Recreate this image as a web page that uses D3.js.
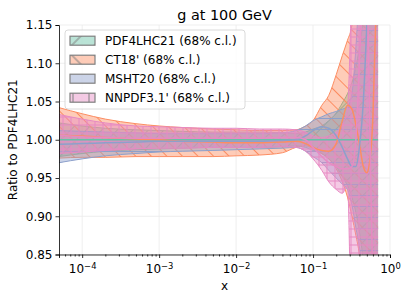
<!DOCTYPE html>
<html>
<head>
<meta charset="utf-8">
<script src="https://cdn.jsdelivr.net/npm/d3@7"></script>
<style>
  body { margin: 0; background: #fff; }
  text { font-family: "DejaVu Sans", sans-serif; }
</style>
</head>
<body>
<div id="chart"></div>
<script>
// x grid shared by all bands
var xs = [5e-5, 1e-4, 2e-4, 5e-4, 1e-3, 2e-3, 5e-3, 1e-2, 2e-2, 4e-2, 0.06, 0.08, 0.1, 0.13, 0.16, 0.2, 0.24, 0.28, 0.32, 0.36, 0.4, 0.45, 0.5, 0.55, 0.6, 0.65, 0.7]

var pdf4lhcMid = [1, 1, 1, 1, 1, 1, 1, 1, 1, 1, 1, 1, 1, 1, 1, 1, 1, 1, 1, 1, 1, 1, 1, 1, 1, 1, 1]
var pdf4lhcLo  = [0.978, 0.982, 0.985, 0.987, 0.988, 0.989, 0.99, 0.99, 0.99, 0.991, 0.992, 0.99, 0.986, 0.982, 0.975, 0.965, 0.952, 0.94, 0.925, 0.905, 0.88, 0.84, 0.78, 0.7, 0.6, 0.5, 0.4]
var pdf4lhcHi  = [1.022, 1.018, 1.015, 1.013, 1.012, 1.011, 1.01, 1.01, 1.01, 1.009, 1.008, 1.01, 1.014, 1.018, 1.025, 1.035, 1.048, 1.06, 1.075, 1.095, 1.12, 1.16, 1.22, 1.3, 1.4, 1.5, 1.6]

var ct18Mid = [1.006, 1.005, 1.003, 1.001, 1.0, 0.998, 0.997, 0.996, 0.996, 0.997, 0.998, 0.995, 0.99, 0.986, 0.985, 0.995, 1.025, 1.045, 1.04, 1.02, 0.995, 0.965, 0.957, 0.975, 1.03, 1.15, 1.3]
var ct18Lo  = [0.976, 0.977, 0.977, 0.978, 0.978, 0.978, 0.978, 0.979, 0.98, 0.983, 0.99, 0.992, 0.988, 0.982, 0.975, 0.962, 0.945, 0.925, 0.9, 0.875, 0.85, 0.8, 0.7, 0.6, 0.5, 0.4, 0.3]
var ct18Hi  = [1.042, 1.034, 1.027, 1.021, 1.018, 1.016, 1.014, 1.013, 1.012, 1.012, 1.013, 1.018, 1.025, 1.045, 1.058, 1.085, 1.11, 1.13, 1.15, 1.2, 1.3, 1.4, 1.5, 1.6, 1.6, 1.6, 1.6]

var mshtMid = [0.994, 0.995, 0.996, 0.997, 0.998, 0.998, 0.998, 0.998, 0.998, 0.999, 1.0, 1.005, 1.012, 1.017, 1.015, 1.005, 0.99, 0.975, 0.965, 0.965, 0.99, 1.05, 1.15, 1.25, 1.3, 1.3, 1.3]
var mshtLo  = [0.97, 0.975, 0.979, 0.982, 0.984, 0.985, 0.986, 0.987, 0.988, 0.989, 0.99, 0.985, 0.978, 0.97, 0.96, 0.95, 0.942, 0.935, 0.915, 0.885, 0.86, 0.82, 0.76, 0.7, 0.6, 0.5, 0.4]
var mshtHi  = [1.012, 1.011, 1.01, 1.009, 1.008, 1.008, 1.008, 1.008, 1.008, 1.009, 1.012, 1.018, 1.025, 1.03, 1.034, 1.037, 1.04, 1.043, 1.06, 1.12, 1.2, 1.3, 1.4, 1.5, 1.6, 1.6, 1.6]

var nnpdfMid = [1.006, 1.004, 1.003, 1.002, 1.002, 1.002, 1.002, 1.002, 1.002, 1.003, 1.003, 1.0, 0.99, 0.978, 0.97, 0.965, 0.962, 0.962, 0.965, 1.0, 1.1, 1.2, 1.2, 1.0, 0.8, 0.7, 0.7]
var nnpdfLo  = [0.982, 0.984, 0.986, 0.988, 0.989, 0.989, 0.99, 0.99, 0.99, 0.991, 0.99, 0.985, 0.975, 0.96, 0.945, 0.935, 0.93, 0.94, 0.7, 0.6, 0.5, 0.4, 0.4, 0.4, 0.4, 0.4, 0.4]
var nnpdfHi  = [1.033, 1.027, 1.022, 1.018, 1.017, 1.016, 1.015, 1.015, 1.014, 1.014, 1.013, 1.01, 1.005, 1.003, 1.005, 1.01, 1.02, 1.04, 1.2, 1.3, 1.4, 1.5, 1.6, 1.6, 1.6, 1.6, 1.6]

var names = ["PDF4LHC21 (68% c.l.)", "CT18' (68% c.l.)", "MSHT20 (68% c.l.)", "NNPDF3.1' (68% c.l.)"]
var colors = ["#66c2a5", "#fc8d62", "#8da0cb", "#e78ac3"]
var hatches = ["/", "\\", "-", "+"]
var yTicks = [0.85, 0.90, 0.95, 1.00, 1.05, 1.10, 1.15]
var xTicks = [1e-4, 1e-3, 1e-2, 1e-1, 1]

var series = [
  {name: names[0], color: colors[0], hatch: hatches[0], mid: pdf4lhcMid, lo: pdf4lhcLo, hi: pdf4lhcHi},
  {name: names[1], color: colors[1], hatch: hatches[1], mid: ct18Mid, lo: ct18Lo, hi: ct18Hi},
  {name: names[2], color: colors[2], hatch: hatches[2], mid: mshtMid, lo: mshtLo, hi: mshtHi},
  {name: names[3], color: colors[3], hatch: hatches[3], mid: nnpdfMid, lo: nnpdfLo, hi: nnpdfHi}
]

var W = 407, H = 299
var margin = {top: 25, right: 17, bottom: 44.5, left: 59}
var width = W - margin.left - margin.right,
    height = H - margin.top - margin.bottom

var svg = d3.select('#chart').append('svg')
  .attr('width', W).attr('height', H)

var xScale = d3.scaleLog().domain([5e-5, 1]).range([0, width])
var yScale = d3.scaleLinear().domain([0.85, 1.15]).range([height, 0])

var defs = svg.append('defs')

// hatch patterns, one set for the plot (series colour) and one for the legend (grey)
function makePattern(id, hatch, stroke, size) {
  var p = defs.append('pattern')
    .attr('id', id)
    .attr('patternUnits', 'userSpaceOnUse')
    .attr('width', size).attr('height', size)
  if (hatch == '/') p.attr('patternTransform', 'rotate(45)')
  if (hatch == '\\') p.attr('patternTransform', 'rotate(-45)')
  if (hatch == '/' || hatch == '\\' || hatch == '+') {
    p.append('line').attr('x1', size / 2).attr('x2', size / 2).attr('y1', 0).attr('y2', size)
      .attr('stroke', stroke).attr('stroke-width', 1)
  }
  if (hatch == '-' || hatch == '+') {
    p.append('line').attr('y1', size / 2).attr('y2', size / 2).attr('x1', 0).attr('x2', size)
      .attr('stroke', stroke).attr('stroke-width', 1)
  }
}
var spacing = {'/': 11, '\\': 11, '-': 11, '+': 8}
series.forEach(function(s, i) {
  makePattern('hatch' + i, s.hatch, s.color, spacing[s.hatch])
  makePattern('lhatch' + i, s.hatch, '#808080', 16)
})

defs.append('clipPath').attr('id', 'plotclip')
  .append('rect').attr('width', width).attr('height', height)

var g = svg.append('g')
  .attr('transform', 'translate(' + margin.left + ',' + margin.top + ')')

// grid
g.append('g').selectAll('line.gx').data(xTicks).enter().append('line')
  .attr('x1', d => xScale(d)).attr('x2', d => xScale(d))
  .attr('y1', 0).attr('y2', height)
  .attr('stroke', '#ebebeb').attr('stroke-width', 0.8)
g.append('g').selectAll('line.gy').data(yTicks).enter().append('line')
  .attr('y1', d => yScale(d)).attr('y2', d => yScale(d))
  .attr('x1', 0).attr('x2', width)
  .attr('stroke', '#ebebeb').attr('stroke-width', 0.8)

var area = d3.area()
  .x((d, i) => xScale(xs[i]))
  .y0(d => yScale(d[0]))
  .y1(d => yScale(d[1]))
  .curve(d3.curveMonotoneX)

var line = d3.line()
  .x((d, i) => xScale(xs[i]))
  .y(d => yScale(d))
  .curve(d3.curveMonotoneX)

var plot = g.append('g').attr('clip-path', 'url(#plotclip)')

series.forEach(function(s, i) {
  var band = s.lo.map((v, j) => [v, s.hi[j]])
  plot.append('path').datum(band).attr('d', area)
    .attr('fill', s.color).attr('fill-opacity', 0.45)
  plot.append('path').datum(band).attr('d', area)
    .attr('fill', 'url(#hatch' + i + ')')
  plot.append('path').datum(s.lo).attr('d', line)
    .attr('fill', 'none').attr('stroke', s.color).attr('stroke-width', 1)
  plot.append('path').datum(s.hi).attr('d', line)
    .attr('fill', 'none').attr('stroke', s.color).attr('stroke-width', 1)
})

series.forEach(function(s) {
  plot.append('path').datum(s.mid).attr('d', line)
    .attr('fill', 'none').attr('stroke', s.color).attr('stroke-width', 1.5)
})

// axes
var supMinus = n => (n < 0 ? '\u2212' : '') + Math.abs(n)

var xAxis = g.append('g')
  .attr('transform', 'translate(0,' + height + ')')
  .call(d3.axisBottom(xScale).tickValues(xTicks).tickSize(3.5).tickPadding(3).tickFormat(''))
xAxis.selectAll('.tick text').remove()
xAxis.selectAll('.tick').append('text')
  .attr('y', 18).attr('fill', '#000').attr('font-size', 12).attr('text-anchor', 'middle')
  .each(function(d) {
    var t = d3.select(this)
    t.append('tspan').text('10')
    t.append('tspan').attr('dy', '-0.45em').attr('font-size', '0.7em')
      .text(supMinus(Math.round(Math.log10(d))))
  })

var minors = []
for (var e = -5; e < 0; e++) {
  for (var m = 2; m < 10; m++) {
    var v = m * Math.pow(10, e)
    if (v >= 5e-5 && v <= 1) minors.push(v)
  }
}
g.append('g')
  .attr('transform', 'translate(0,' + height + ')')
  .call(d3.axisBottom(xScale).tickValues(minors).tickSize(2).tickFormat(''))
  .call(a => a.select('.domain').remove())

g.append('g')
  .call(d3.axisLeft(yScale).tickValues(yTicks).tickSize(3.5).tickPadding(3).tickFormat(d3.format('.2f')))
  .selectAll('text').attr('font-size', 12).attr('fill', '#000')

g.selectAll('.domain, .tick line').attr('stroke', '#000').attr('stroke-width', 0.8)

// labels
svg.append('text')
  .attr('x', margin.left + width / 2).attr('y', 19.5)
  .attr('text-anchor', 'middle').attr('font-size', 14.4)
  .text('g at 100 GeV')

svg.append('text')
  .attr('x', margin.left + width / 2).attr('y', 290)
  .attr('text-anchor', 'middle').attr('font-size', 12)
  .text('x')

svg.append('text')
  .attr('transform', 'translate(17,' + (margin.top + height / 2) + ') rotate(-90)')
  .attr('text-anchor', 'middle').attr('font-size', 12)
  .text('Ratio to PDF4LHC21')

// legend
var legend = g.append('g').attr('transform', 'translate(6,5)')
legend.append('rect')
  .attr('width', 180).attr('height', 79).attr('rx', 3)
  .attr('fill', '#fff').attr('fill-opacity', 0.8)
  .attr('stroke', '#d0d0d0').attr('stroke-width', 0.8)

var item = legend.selectAll('.legend')
  .data(series)
  .enter().append('g')
  .attr('class', 'legend')
  .attr('transform', (d, i) => 'translate(0,' + (10.7 + i * 19) + ')')

item.append('rect')
  .attr('x', 5).attr('y', -4.5).attr('width', 25).attr('height', 9)
  .attr('fill', d => d.color).attr('fill-opacity', 0.45)
item.append('rect')
  .attr('x', 5).attr('y', -4.5).attr('width', 25).attr('height', 9)
  .attr('fill', (d, i) => 'url(#lhatch' + i + ')')
  .attr('stroke', '#808080').attr('stroke-width', 1.2)
item.append('text')
  .attr('x', 40).attr('dy', '0.35em').attr('font-size', 12)
  .text(d => d.name)
</script>
</body>
</html>
